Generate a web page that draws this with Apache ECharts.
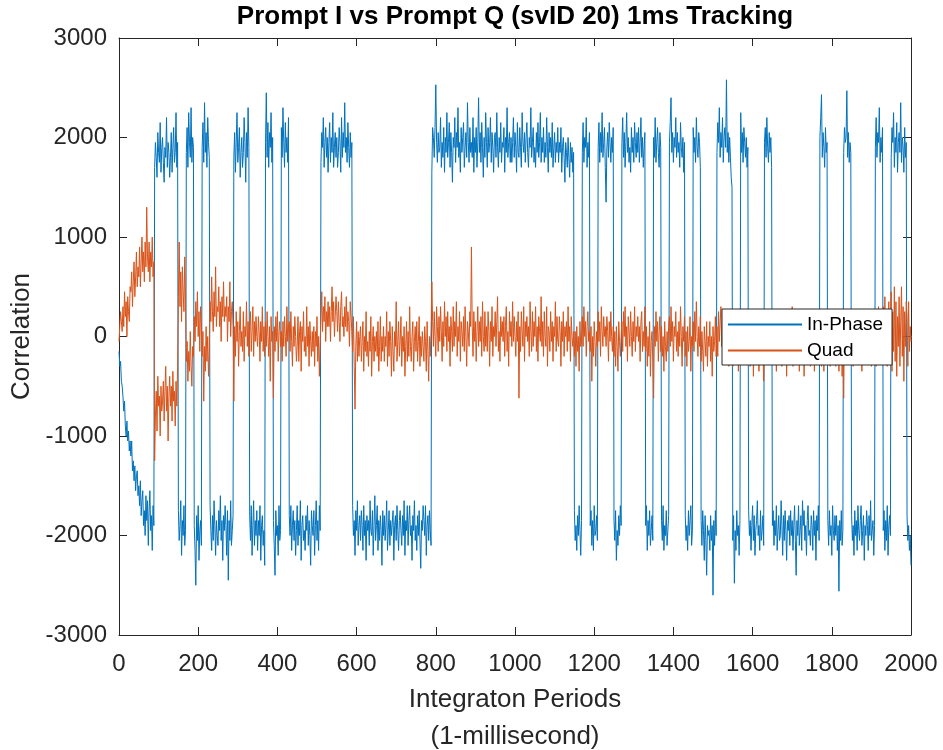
<!DOCTYPE html>
<html>
<head>
<meta charset="utf-8">
<title>Prompt I vs Prompt Q</title>
<script src="https://cdn.jsdelivr.net/npm/echarts@6/dist/echarts.min.js"></script>
<style>
  html, body { margin: 0; padding: 0; background: #ffffff; }
  #chart { width: 943px; height: 750px; }
</style>
</head>
<body>
<div id="chart"></div>
<script>
// Prompt correlator outputs, one value every SAMPLE_STEP integration periods.
const SAMPLE_STEP = 2;

const seriesNames = ['In-Phase', 'Quad'];

// In-phase prompt correlation; each row is one 20 ms navigation bit
const inPhase = [
  -150, -300, -250, -450, -500,
  -600, -750, -650, -900, -1000, -850, -1050, -950, -1150, -1050,
  -1200, -1050, -1350, -1250, -1450, -1300, -1550, -1400, -1350, -1600,
  -1500, -1700, -1450, -1800, -1650, -1550, -1900, -1750, -2000, -1600,
  -1850, -1650, -2100, -1750, -1550, -1950, -1800, -2150, -1700, -1900,
  1700, 1950, 1800, 1600, 2050, 1850, 1750, 2150, 1650, 1900,
  2000, 1750, 1550, 1900, 1800, 2200, 1700, 1950, 1850, 1600,
  1800, 2050, 1650, 1900, 2100, 1750, 1850, 2250, 1700, 1950,
  -1750, -2050, -1900, -1650, -2200, -1850, -2000, -1700, -2100, -1950,
  1850, 2100, 1700, 2250, 1950, 1800, 2300, 1750, 2000, 1900,
  -1900, -2150, -2500, -1800, -2050, -1700, -2250, -1950, -1850, -2100,
  1900, 2150, 1750, 2350, 1850, 2050, 1700, 2200, 1950, 1800,
  -1700, -1950, -2150, -1800, -2050, -1650, -1900, -2200, -1850, -2000,
  -2100, -1750, -1950, -1600, -2050, -1850, -2250, -1800, -1950, -1700,
  -1900, -2200, -1750, -2450, -1850, -2050, -1650, -2100, -1950, -1800,
  1800, 2050, 1650, 1950, 2250, 1750, 1900, 2100, 1600, 1850,
  2000, 1700, 1850, 2200, 1950, 1550, 2050, 1800, 2300, 1900,
  -1800, -2050, -1700, -2200, -1900, -1650, -2100, -1850, -2000, -1750,
  -2150, -1850, -2000, -1700, -2250, -1900, -1800, -2100, -1950, -2300,
  1950, 2450, 1800, 2150, 1700, 2050, 1900, 2250, 1750, 2000,
  -1850, -2100, -2400, -1750, -2000, -1900, -2200, -1700, -2050, -1950,
  2100, 1800, 2300, 1950, 1700, 2150, 1850, 2000, 1750, 2200,
  -1800, -2000, -1700, -2150, -1900, -1750, -2050, -1850, -2200, -1950,
  -1700, -2100, -1850, -2000, -1650, -2250, -1900, -1800, -2050, -1950,
  -2150, -1800, -1950, -1700, -2100, -1850, -2000, -2300, -1750, -1900,
  -2000, -1750, -2200, -1900, -1650, -2050, -1850, -2150, -1700, -1950,
  1750, 2050, 1900, 2200, 1700, 1950, 2100, 1800, 2000, 1650,
  1950, 2150, 1750, 2000, 1850, 2250, 1700, 1900, 2050, 1800,
  2000, 1700, 1850, 2100, 1950, 1650, 2200, 1800, 2050, 1900,
  2350, 1850, 2000, 1750, 2150, 1900, 1700, 2050, 1800, 1950,
  -1700, -2000, -1850, -2200, -1750, -1950, -1650, -2100, -1900, -1800,
  -2050, -1750, -1900, -2150, -1700, -2000, -1850, -2250, -1800, -1950,
  -1850, -2100, -1650, -1950, -2000, -1750, -2200, -1900, -1600, -2050,
  -1900, -1700, -2150, -1850, -2050, -1800, -1950, -2300, -1750, -2000,
  -1800, -2050, -1900, -1650, -2150, -1950, -1750, -2100, -1850, -2000,
  -2000, -1750, -2250, -1900, -1800, -2050, -1700, -1950, -2150, -1850,
  -1750, -1950, -2100, -1800, -2000, -1650, -2200, -1850, -1950, -1700,
  -2100, -1850, -1700, -2000, -1900, -2250, -1800, -1950, -1650, -2050,
  -1900, -2150, -1800, -2000, -1750, -2050, -2330, -1850, -1950, -1700,
  -1850, -2000, -1700, -2200, -1900, -1800, -2050, -1750, -1950, -2100,
  1650, 2100, 2000, 1800, 2100, 2530, 1950, 1750, 2050, 1850,
  1900, 2200, 1700, 1950, 1800, 2100, 1650, 2000, 1850, 2250,
  1800, 1950, 2150, 1700, 2050, 1850, 1550, 2000, 1900, 2200,
  1750, 2050, 1900, 2300, 1800, 1950, 1650, 2100, 1850, 2000,
  2150, 1700, 1900, 2050, 1800, 2350, 1950, 1750, 2100, 1850,
  1950, 1800, 2200, 1650, 2000, 1850, 2100, 1700, 1950, 2400,
  1850, 2050, 1750, 2150, 1900, 1600, 2000, 1800, 2250, 1950,
  1700, 2100, 1850, 1950, 2200, 1750, 2050, 1900, 1650, 2000,
  2050, 1800, 2250, 1900, 1700, 2000, 1850, 2150, 1750, 1950,
  1900, 2100, 1650, 2000, 1850, 2300, 1800, 1950, 2050, 1750,
  2000, 1750, 1950, 2200, 1800, 2050, 1900, 1650, 2150, 1850,
  1800, 2100, 1900, 1700, 2250, 1950, 1850, 2050, 1750, 2000,
  2150, 1850, 1700, 2000, 1900, 2300, 1800, 1950, 2100, 1750,
  1900, 1700, 2050, 1850, 2150, 1800, 1950, 2250, 1750, 2000,
  1850, 2100, 1750, 1950, 1800, 2200, 1900, 1650, 2050, 1850,
  2000, 1800, 2150, 1700, 1900, 2050, 1750, 1950, 1850, 2100,
  1750, 1950, 1850, 2100, 1650, 1900, 2000, 1800, 1550, 1950,
  1850, 1700, 2000, 1800, 1600, 1950, 1750, 1900, 1650, 1850,
  -1750, -2050, -1900, -2150, -1800, -2000, -1700, -1950, -2200, -1850,
  1850, 2150, 1750, 2000, 1900, 2200, 1700, 1950, 1800, 2050,
  -1900, -1750, -2100, -1850, -2150, -1700, -2000, -1950, -1800, -2050,
  1900, 2150, 1750, 2050, 1850, 2250, 1800, 1950, 2100, 1700,
  1350, 1900, 2050, 1800, 2150, 1950, 1750, 2000, 1850, 2100,
  -1850, -2050, -1750, -2250, -1950, -2100, -1800, -2000, -1700, -1900,
  1950, 2200, 1800, 2050, 1700, 1950, 2250, 1850, 2000, 1750,
  1900, 1650, 2100, 1850, 2000, 1750, 2150, 1950, 1800, 2050,
  1850, 2100, 1750, 1950, 2200, 1800, 2000, 1700, 1900, 2050,
  -1900, -1700, -2150, -1850, -2000, -1750, -2100, -1950, -1800, -2050,
  2000, 1800, 2200, 1750, 1950, 2100, 1850, 1700, 2050, 1900,
  -1850, -2050, -1700, -2150, -1900, -2000, -1750, -2100, -1950, -1800,
  1950, 2150, 2400, 1850, 2050, 1750, 2000, 1900, 2200, 1800,
  2050, 1850, 1950, 1700, 2150, 1900, 1800, 2000, 1650, 1950,
  -1800, -2050, -1900, -2150, -1750, -2000, -1850, -1700, -2100, -1950,
  2100, 1850, 2000, 1750, 2200, 1900, 1800, 2050, 1950, 1700,
  -1850, -2100, -1750, -1950, -2250, -1800, -2050, -2400, -1900, -2000,
  -1950, -2150, -1800, -2050, -1900, -2600, -1850, -2100, -1750, -2000,
  1850, 2150, 1950, 2300, 1800, 2050, 1900, 2200, 1750, 2000,
  2100, 1900, 2580, 1850, 2050, 1750, 2000, 1800, 1600, 1500,
  -2050, -1800, -2480, -1950, -2150, -1750, -2000, -1900, -2200, -1850,
  2250, 1850, 2050, 1750, 2100, 1950, 1800, 2000, 1700, 1900,
  -1750, -2000, -1850, -2150, -1900, -1700, -2050, -1800, -2200, -1950,
  -1850, -1650, -2000, -1900, -2150, -1750, -2050, -1950, -1800, -2100,
  1950, 2100, 1800, 2200, 1900, 1750, 2050, 1850, 2000, 1700,
  -1900, -1750, -2100, -1850, -2000, -1700, -2150, -1950, -1800, -2050,
  -2000, -1650, -1900, -2200, -1800, -2050, -1750, -1950, -2250, -1850,
  -1950, -1800, -2100, -1750, -2000, -1850, -2150, -1900, -1700, -2050,
  -2400, -1850, -2000, -1700, -2100, -1950, -1800, -2150, -1650, -1900,
  -1750, -2050, -1900, -2200, -1850, -1700, -2000, -1950, -2100, -1800,
  -1900, -2150, -1750, -2000, -1850, -2250, -1800, -1950, -1700, -2050,
  2000, 2200, 2430, 1800, 2050, 1900, 1700, 2100, 1850, 1950,
  -1850, -2100, -1750, -2000, -1900, -2200, -1700, -1950, -2050, -1800,
  -2000, -1800, -2150, -1900, -2560, -1850, -2050, -1750, -2100, -1950,
  1850, 2100, 1950, 2000, 2470, 1800, 2050, 1750, 1950, 1850,
  -1800, -2050, -1900, -2200, -1750, -2000, -1850, -2150, -1700, -1950,
  -2050, -1850, -1700, -2100, -1950, -1800, -2250, -1900, -2000, -1750,
  -1900, -2150, -1800, -2000, -1650, -2050, -1950, -1850, -2200, -1900,
  1900, 2200, 1800, 2050, 1950, 2300, 1750, 2000, 1850, 2100,
  -1950, -1750, -2150, -1850, -2050, -1700, -2200, -1900, -1800, -2000,
  1800, 2100, 1950, 2250, 1700, 2000, 1850, 2150, 1650, 1950,
  2050, 1850, 2350, 1750, 2000, 1900, 1650, 2100, 1800, 1950,
  -1800, -2050, -1900, -2150, -2000, -2300
];

// Quadrature prompt correlation, same sampling as inPhase
const quad = [
  -50, 100, 250, 150, 50,
  300, 100, 450, 200, 350, 0, 400, 250, 150, 500,
  450, 650, 300, 550, 750, 400, 600, 850, 500, 700,
  600, 900, 500, 750, 1000, 650, 850, 550, 950, 700,
  1300, 800, 650, 950, 550, 850, 700, 1000, 600, 750,
  -1250, -800, -550, -950, -400, -700, -600, -1000, -500, -750,
  -650, -450, -850, -550, -300, -750, -500, -1050, -600, -400,
  -700, -500, -850, -350, -650, -550, -900, -450, -700, -300,
  400, 950, 300, 650, 150, 700, 450, 250, 800, 350,
  -250, -50, -450, -150, -350, 50, -300, -500, -100, -200,
  200, -50, 350, 100, 450, 0, 250, -150, 300, 150,
  -200, 50, -650, -100, -350, 100, -250, 0, -400, -150,
  350, 150, 600, 250, 50, 450, 200, 700, 100, 300,
  250, 500, 100, 350, -50, 400, 200, 550, 150, 300,
  200, 400, -50, 300, 150, 550, 0, 250, 350, 100,
  -650, 100, -200, 250, -50, 150, -300, 50, 300, -100,
  50, -150, 250, -250, 100, 0, 350, -100, 150, -200,
  100, 250, -150, 50, 300, -200, 150, -50, 200, 0,
  -100, 200, 50, -250, 150, -50, 300, -150, 100, -200,
  150, -100, 250, 0, -200, 100, -450, 200, -50, 50,
  -620, 100, -150, 200, -50, 250, -250, 50, 150, -100,
  50, -250, 150, -100, 200, 0, -200, 300, -50, 100,
  150, -150, 250, -50, -300, 100, -100, 200, 0, -250,
  -100, 200, -250, 50, 150, -350, 100, -50, 250, -150,
  0, -200, 300, -100, 100, -300, 150, -50, -200, 50,
  -150, 100, -300, 50, -100, 200, -250, 0, -400, -50,
  200, 450, 50, 300, 150, 400, -50, 250, 100, 350,
  100, 300, -50, 250, 500, 150, 350, 0, 200, 400,
  250, 50, 350, 150, -50, 300, 450, 100, 200, 0,
  300, 100, 400, 50, 250, 150, -100, 350, 200, 50,
  -150, 200, -300, -730, -100, 150, -250, 50, -200, 0,
  100, -250, -50, 150, -350, 0, -150, 250, -200, -50,
  -300, 50, -150, 200, -400, -50, 100, -250, 0, -150,
  50, -200, 150, -350, -100, 200, -250, 0, -150, 100,
  -250, 0, -100, 250, -300, 50, -200, 150, -50, -400,
  100, -150, -350, 50, -100, 350, -250, -50, 150, -200,
  -50, 200, -300, 0, -150, 100, -400, -100, 150, -250,
  50, -200, 300, -100, -250, 0, 150, -350, -50, 100,
  -150, 150, -250, -50, 200, -300, 0, -200, 50, -100,
  -250, 100, -50, -350, 150, -150, -450, 0, -200, 50,
  550, 150, -100, 250, 0, -200, 300, 100, -150, 200,
  -50, 300, 50, -250, 150, -100, 350, 0, 200, -150,
  250, -50, 100, -300, 200, 50, -150, 300, -100, 150,
  0, 350, -200, 100, -50, 250, -250, 150, 50, -100,
  200, -150, 300, 0, -300, 150, 50, -100, 250, 100,
  900, 100, -200, 250, -50, 150, -250, 50, 300, -100,
  150, -50, 200, -200, 350, 0, -150, 250, -100, 100,
  -150, 250, 50, -300, 150, -50, 300, -200, 100, 0,
  250, -100, 150, 400, -150, 50, -250, 200, 0, 150,
  -50, 200, -200, 100, 300, -150, 50, -300, 250, 0,
  150, -100, 350, -50, 200, 0, -200, 150, -50, 250,
  -620, 100, -150, 250, 50, -100, 300, -250, 150, 0,
  200, -50, 100, -200, 350, 50, -150, 250, -100, 150,
  0, 300, -150, 100, -250, 200, 50, -50, 400, -100,
  150, -200, 250, 0, -100, 300, -300, 100, 50, -150,
  250, -50, 150, -250, 100, 0, 350, -150, 200, -50,
  -100, 200, 50, -300, 150, -50, 250, -200, 100, 0,
  150, -150, 300, -50, 100, -250, 200, 0, -100, 50,
  -200, 50, -300, 100, -150, 0, -350, 150, -100, -50,
  200, -100, 300, 0, 150, -200, 100, 250, -50, 50,
  -150, 100, -450, 0, -200, 150, -50, -300, 50, -100,
  250, -50, 150, -200, 300, 50, -100, 200, 0, 100,
  -100, 200, 50, -250, 150, -50, 250, 0, -150, 100,
  -200, 50, -300, 100, -100, -350, 150, -50, -200, 0,
  150, -150, 250, 0, 300, -100, 100, -250, 200, 50,
  -100, 250, 0, -200, 150, -50, 300, -150, 100, 0,
  200, -50, 100, -250, 150, 250, -150, 50, -100, 300,
  -150, 100, -300, 0, -200, 150, -400, -50, 50, -250,
  -620, 100, -100, 250, -50, 150, -250, 50, 200, -150,
  100, -200, 0, -350, 150, -100, -250, 50, -150, 100,
  200, -100, 300, -50, 150, -250, 100, 0, 250, -150,
  50, -200, 150, -100, 300, 0, -300, 100, -50, 200,
  -200, 50, -300, 100, -150, -50, 200, -350, 0, -100,
  150, -150, 250, -50, 350, 0, -200, 100, -100, 200,
  -250, 50, -150, -350, 100, -50, -200, 150, -300, 0,
  -100, 150, -250, 0, -400, 100, -150, -50, 200, -200,
  100, -200, 250, -50, 150, 300, -100, 50, -250, 150,
  -50, 200, 0, -150, 250, -300, 100, 50, -200, 150,
  -300, 0, -150, 100, -250, -50, 150, -350, -100, 50,
  200, -150, 100, -250, 150, 0, 250, -100, -50, 100,
  -200, 100, -300, 0, -150, 200, -400, -50, 50, -250,
  0, -200, 150, -350, -100, 100, -250, 50, -150, -450,
  -100, 150, -250, 200, 0, -150, 250, -50, 100, -200,
  100, -250, 0, -150, 200, -350, 50, -100, 150, -200,
  250, -100, -300, 50, -150, 150, -250, 0, -400, 100,
  -50, 200, -200, 100, -100, 300, -300, 0, 150, -150,
  -250, 50, -150, 200, -350, -50, 100, -200, 0, 150,
  -400, 0, -100, 150, -250, 50, -150, 100, -300, -50,
  100, -200, 150, -350, 0, -100, 200, -250, 50, -150,
  -150, 100, -300, 50, -50, -350, 150, 0, -200, 100,
  150, -200, 0, -300, 100, -100, 200, -250, 50, -50,
  -300, 50, -150, 0, -350, 100, -200, 150, -400, -100,
  -620, 100, -150, 250, -50, 150, -250, 0, 200, -100,
  -100, 150, -300, 50, -200, 0, 250, -150, 100, -250,
  -200, 200, -50, -350, 100, -100, 150, -250, 0, 50,
  100, -150, 250, -250, 50, -300, 150, -50, -200, 100,
  100, -300, 200, -100, 300, -150, 50, -250, 150, 0,
  300, -200, 400, -50, 250, -300, 150, 350, -150, 100,
  450, -350, 250, -150, 500, -250, 350, -400, 200, -100,
  400, -300, 150, 500, -200, 300, -450, 250, -100, 350,
  200, -300, 350, -150, 100, -50
];

// Axis ranges and tick spacing
const xRange = [0, 2000], xStep = 200;
const yRange = [-3000, 3000], yStep = 1000;

const toPairs = vals => vals.map((v, i) => [i * SAMPLE_STEP, v]);

const FONT = '"Liberation Sans", Arial, Helvetica, sans-serif';
const AXIS_COLOR = '#262626';
const plainNumber = v => String(v);

const chart = echarts.init(document.getElementById('chart'), null, { renderer: 'canvas' });

const baseAxis = {
  type: 'value',
  splitLine: { show: false },
  axisLine: { show: true, onZero: false, lineStyle: { color: AXIS_COLOR, width: 1 } },
  axisTick: { show: true, inside: true, length: 8, lineStyle: { color: AXIS_COLOR, width: 1 } }
};

chart.setOption({
  animation: false,
  backgroundColor: '#ffffff',
  title: {
    text: 'Prompt I vs Prompt Q (svID 20) 1ms Tracking',
    left: 515,
    textAlign: 'center',
    top: 4,
    padding: 0,
    textStyle: { fontFamily: FONT, fontSize: 26, fontWeight: 'bold', color: '#000000' }
  },
  grid: {
    left: 119, top: 38, width: 792, height: 597,
    containLabel: false,
    outerBoundsMode: 'none'
  },
  legend: {
    data: seriesNames,
    orient: 'vertical',
    left: 722,
    top: 309,
    padding: [6, 9, 5, 6],
    itemGap: 7,
    itemWidth: 74,
    itemHeight: 2,
    icon: 'rect',
    backgroundColor: '#ffffff',
    borderColor: AXIS_COLOR,
    borderWidth: 1,
    borderRadius: 0,
    selectedMode: false,
    textStyle: { fontFamily: FONT, fontSize: 19, color: '#000000' }
  },
  xAxis: [
    Object.assign({}, baseAxis, {
      position: 'bottom',
      min: xRange[0], max: xRange[1], interval: xStep,
      axisLabel: { fontFamily: FONT, fontSize: 24, color: AXIS_COLOR, margin: 17, formatter: plainNumber },
      name: 'Integraton Periods\n(1-millisecond)',
      nameLocation: 'middle',
      nameGap: 37,
      nameTextStyle: { fontFamily: FONT, fontSize: 26, color: AXIS_COLOR, lineHeight: 37 }
    }),
    Object.assign({}, baseAxis, {
      position: 'top',
      min: xRange[0], max: xRange[1], interval: xStep,
      axisLabel: { show: false }
    })
  ],
  yAxis: [
    Object.assign({}, baseAxis, {
      position: 'left',
      min: yRange[0], max: yRange[1], interval: yStep,
      axisLabel: { fontFamily: FONT, fontSize: 24, color: AXIS_COLOR, margin: 12, formatter: plainNumber },
      name: 'Correlation',
      nameLocation: 'middle',
      nameGap: 66,
      nameTextStyle: { fontFamily: FONT, fontSize: 26, color: AXIS_COLOR }
    }),
    Object.assign({}, baseAxis, {
      position: 'right',
      min: yRange[0], max: yRange[1], interval: yStep,
      axisLabel: { show: false }
    })
  ],
  series: [
    {
      name: seriesNames[0],
      type: 'line',
      xAxisIndex: 0, yAxisIndex: 0,
      data: toPairs(inPhase),
      showSymbol: false,
      symbol: 'none',
      sampling: null,
      color: '#0072BD',
      lineStyle: { color: '#0072BD', width: 1 },
      emphasis: { disabled: true }
    },
    {
      name: seriesNames[1],
      type: 'line',
      xAxisIndex: 0, yAxisIndex: 0,
      data: toPairs(quad),
      showSymbol: false,
      symbol: 'none',
      sampling: null,
      color: '#D95319',
      lineStyle: { color: '#D95319', width: 1 },
      emphasis: { disabled: true }
    }
  ]
});
</script>
</body>
</html>
